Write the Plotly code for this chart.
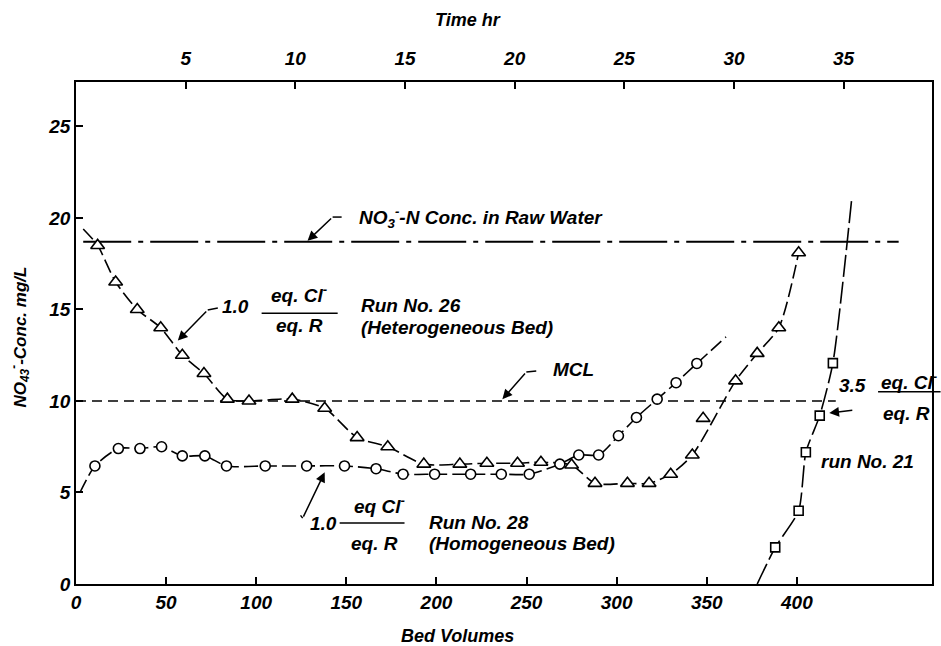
import plotly.graph_objects as go

# ---------------- data ----------------
# Run No. 26 (Heterogeneous Bed) - triangles
run26_bv = [12, 22, 34, 47, 59, 71, 84, 96, 120, 138, 156, 173, 193, 213, 228, 245, 258, 275,
            288, 306, 318, 330, 342, 348, 366, 378, 390, 401]
run26_conc = [18.5, 16.5, 15.0, 14.0, 12.5, 11.5, 10.1, 10.0, 10.1, 9.6, 8.0, 7.5, 6.55, 6.55, 6.6, 6.6,
              6.65, 6.5, 5.5, 5.5, 5.5, 6.0, 7.05, 9.05, 11.1, 12.6, 14.0, 18.1]
run26_outlier_bv = [348]            # point off the drawn curve
run26_curve_start = (4, 19.4)

# Run No. 28 (Homogeneous Bed) - circles
run28_bv = [10.5, 23.5, 35.5, 47.5, 59, 71.5, 83.5, 105, 128, 149, 166.5, 181.5, 199, 219, 236,
            251.5, 268.5, 279, 290, 301, 311, 322.5, 333, 344.5]
run28_conc = [6.45, 7.4, 7.4, 7.5, 7.0, 7.0, 6.45, 6.45, 6.45, 6.45, 6.3, 6.0, 6.0, 6.0, 6.0, 6.0,
              6.55, 7.05, 7.05, 8.1, 9.1, 10.1, 11.0, 12.05]
run28_curve_start = (2.2, 5.0)
run28_curve_end = (360.7, 13.5)

# Run No. 21 - squares
run21_bv = [388, 401, 405, 412.7, 420]
run21_conc = [2.0, 4.0, 7.2, 9.2, 12.07]
run21_curve_start = (378, 0.0)
run21_curve_end = (430.5, 21.1)

# reference lines
raw_water_conc = 18.7
raw_water_span = [4, 456.5]
mcl_conc = 10.0
mcl_span = [0, 421.6]

# axes
bv_ticks = [0, 50, 100, 150, 200, 250, 300, 350, 400]
conc_ticks = [0, 5, 10, 15, 20, 25]
time_ticks = [5, 10, 15, 20, 25, 30, 35]
bv_per_hr = 12.17
x_max = 475
y_max = 27.43

# ---------------- figure ----------------
FONT = "Liberation Sans, Arial, sans-serif"
fig = go.Figure()

# reference lines
fig.add_trace(go.Scatter(x=raw_water_span, y=[raw_water_conc] * 2, mode="lines",
                         line=dict(color="black", width=1.8, dash="48px,7px,5px,7px"),
                         hoverinfo="skip", showlegend=False))
fig.add_trace(go.Scatter(x=mcl_span, y=[mcl_conc] * 2, mode="lines",
                         line=dict(color="black", width=1.6, dash="10px,6px"),
                         hoverinfo="skip", showlegend=False))

# curves
c26x = [run26_curve_start[0]] + [b for b in run26_bv if b not in run26_outlier_bv]
c26y = [run26_curve_start[1]] + [c for b, c in zip(run26_bv, run26_conc) if b not in run26_outlier_bv]
fig.add_trace(go.Scatter(x=c26x, y=c26y, mode="lines",
                         line=dict(color="black", width=1.6, shape="spline", smoothing=0.7,
                                   dash="14px,5px"),
                         hoverinfo="skip", showlegend=False))
c28x = [run28_curve_start[0]] + run28_bv + [run28_curve_end[0]]
c28y = [run28_curve_start[1]] + run28_conc + [run28_curve_end[1]]
fig.add_trace(go.Scatter(x=c28x, y=c28y, mode="lines",
                         line=dict(color="black", width=1.6, shape="spline", smoothing=0.7,
                                   dash="14px,5px"),
                         hoverinfo="skip", showlegend=False))
c21x = [run21_curve_start[0]] + run21_bv + [run21_curve_end[0]]
c21y = [run21_curve_start[1]] + run21_conc + [run21_curve_end[1]]
fig.add_trace(go.Scatter(x=c21x, y=c21y, mode="lines",
                         line=dict(color="black", width=1.6, shape="spline", smoothing=0.6,
                                   dash="22px,5px"),
                         hoverinfo="skip", showlegend=False))

# markers
fig.add_trace(go.Scatter(x=run26_bv, y=run26_conc, mode="markers",
                         marker=dict(symbol="triangle-up", size=12, color="white",
                                     line=dict(color="black", width=1.6)),
                         showlegend=False))
fig.add_trace(go.Scatter(x=run28_bv, y=run28_conc, mode="markers",
                         marker=dict(symbol="circle", size=10, color="white",
                                     line=dict(color="black", width=1.6)),
                         showlegend=False))
fig.add_trace(go.Scatter(x=run21_bv, y=run21_conc, mode="markers",
                         marker=dict(symbol="square", size=9, color="white",
                                     line=dict(color="black", width=1.6)),
                         showlegend=False))

# invisible trace to carry the top (time) axis
fig.add_trace(go.Scatter(x=[time_ticks[0]], y=[conc_ticks[0]], xaxis="x2", mode="markers",
                         marker=dict(opacity=0), hoverinfo="skip", showlegend=False))

ann_font = dict(family=FONT, size=19, color="black", style="italic", weight="bold")


def txt(x, y, text, xanchor="left", size=None, xref="x", yref="y", angle=0):
    f = dict(ann_font)
    if size:
        f["size"] = size
    fig.add_annotation(x=x, y=y, xref=xref, yref=yref, text=text, showarrow=False,
                       xanchor=xanchor, yanchor="middle", font=f, textangle=angle)


def arrow(x0, y0, x1, y1):
    fig.add_annotation(x=x1, y=y1, ax=x0, ay=y0, xref="x", yref="y", axref="x", ayref="y",
                       text="", showarrow=True, arrowhead=2, arrowsize=1.3, arrowwidth=1.5,
                       arrowcolor="black", standoff=0)


def seg(x0, y0, x1, y1, xref="x"):
    fig.add_shape(type="line", x0=x0, x1=x1, y0=y0, y1=y1, xref=xref, yref="y",
                  line=dict(color="black", width=1.5))


# raw water label
txt(155.7, 20.05, "NO<sub>3</sub><sup>-</sup>-N Conc. in Raw Water")
arrow(142.4, 20.05, 128.5, 18.75)
seg(142.4, 20.05, 147.4, 20.05)

# Run 26
txt(79.8, 15.14, "1.0")
txt(124.1, 15.85, "eq. Cl<sup>-</sup>", xanchor="center")
seg(103.0, 14.8, 145.2, 14.8)
txt(124.1, 14.1, "eq. R", xanchor="center")
txt(157.3, 15.2, "Run No. 26")
txt(157.3, 14.0, "(Heterogeneous Bed)")
arrow(73.1, 14.97, 56.5, 13.3)
seg(73.1, 14.97, 78.7, 15.08)

# MCL
txt(263.7, 11.7, "MCL")
arrow(249.9, 11.58, 236.6, 10.1)
seg(249.9, 11.58, 255.4, 11.64)

# Run 28
txt(128.5, 3.3, "1.0")
txt(168.4, 4.32, "eq Cl<sup>-</sup>", xanchor="center")
seg(146.3, 3.33, 182.3, 3.33)
txt(165.7, 2.2, "eq. R", xanchor="center")
txt(194.5, 3.35, "Run No. 28")
txt(194.5, 2.2, "(Homogeneous Bed)")
arrow(125.8, 3.6, 138.0, 6.1)
seg(125.8, 3.6, 124.6, 3.75)

# Run 21
txt(422.2, 10.87, "3.5")
txt(445.4, 11.1, "eq. Cl<sup>-</sup>")
seg(0.937, 10.5, 1.01, 10.5, xref="paper")
txt(446.5, 9.34, "eq. R")
arrow(431.6, 9.5, 418.0, 9.34)
txt(412.2, 6.67, "run No. 21")

# axis titles
txt(0.446, -0.104, "Bed Volumes", xanchor="center", size=18, xref="paper", yref="paper")
txt(0.458, 1.124, "Time hr", xanchor="center", size=18, xref="paper", yref="paper")
txt(-0.066, 0.492, "NO<sub>43</sub><sup>-</sup>-Conc. mg/L", xanchor="center", size=17,
    xref="paper", yref="paper", angle=-90)

tick_font = dict(family=FONT, size=19, color="black", style="italic", weight="bold")
fig.update_layout(
    width=941, height=646,
    margin=dict(l=76, r=7, t=82, b=62),
    paper_bgcolor="white", plot_bgcolor="white",
    font=dict(family=FONT, color="black"),
    xaxis=dict(range=[0, x_max], tickvals=bv_ticks, ticks="inside", ticklen=7, tickwidth=1.5,
               tickcolor="black", showline=True, linecolor="black", linewidth=1.8, mirror=True,
               showgrid=False, zeroline=False, tickfont=tick_font),
    xaxis2=dict(range=[0, x_max / bv_per_hr], tickvals=time_ticks, overlaying="x", side="top",
                anchor="y", ticks="inside", ticklen=7, tickwidth=1.5, tickcolor="black",
                showline=False, showgrid=False, zeroline=False, tickfont=tick_font,
                ticklabelstandoff=12),
    yaxis=dict(range=[0, y_max], tickvals=conc_ticks, ticks="inside", ticklen=7, tickwidth=1.5,
               tickcolor="black", showline=True, linecolor="black", linewidth=1.8, mirror=True,
               showgrid=False, zeroline=False, tickfont=tick_font),
)

fig.write_html("out.html")
